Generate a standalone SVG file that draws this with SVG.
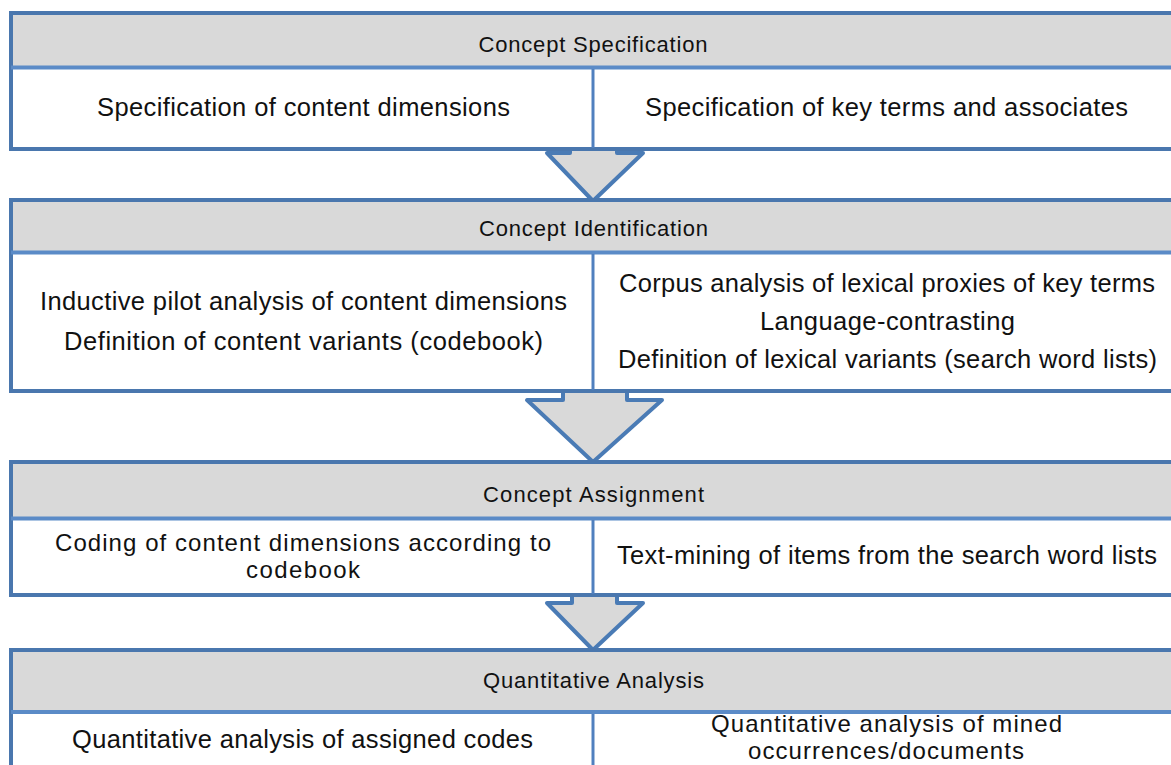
<svg xmlns="http://www.w3.org/2000/svg" width="1171" height="765" viewBox="0 0 1171 765">
<style>
.outer{fill:#ffffff;stroke:#4a77ae;stroke-width:4}
.head{fill:#d9d9d9;stroke:none}
.sep{stroke:#5b8bc7;stroke-width:4;fill:none}
.div{stroke:#5080bf;stroke-width:3;fill:none}
.arrow{fill:#d9d9d9;stroke:#4a7bb5;stroke-width:4;stroke-linejoin:round}
.h{font-family:"Liberation Sans",Arial,sans-serif;font-size:22px;fill:#111;text-anchor:middle}
.b{font-family:"Liberation Sans",Arial,sans-serif;font-size:25.5px;fill:#111;text-anchor:middle}
.s{font-family:"Liberation Sans",Arial,sans-serif;font-size:24px;fill:#111;text-anchor:middle}
</style>
<rect width="1171" height="765" fill="#ffffff"/>
<g id="connectors">
<polygon class="arrow" points="570,146 617,146 617,153 643,153 593,201 547,153 570,153"/>
<polygon class="arrow" points="563,388 627,388 627,400 662,400 593,462 527,400 563,400"/>
<polygon class="arrow" points="572,592 617,592 617,603 643,603 593,650 547,603 572,603"/>
</g>
<g id="concept-specification">
<rect class="outer" x="11" y="13" width="1172" height="136"/>
<rect class="head" x="13" y="15" width="1168" height="51"/>
<line class="sep" x1="11" y1="67.5" x2="1183" y2="67.5"/>
<line class="div" x1="593" y1="69" x2="593" y2="148"/>
<text class="h" x="593" y="52" textLength="229" lengthAdjust="spacing">Concept Specification</text>
<text class="b" x="303.5" y="116" textLength="413" lengthAdjust="spacing">Specification of content dimensions</text>
<text class="b" x="886.5" y="116" textLength="483" lengthAdjust="spacing">Specification of key terms and associates</text>
</g>
<g id="concept-identification">
<rect class="outer" x="11" y="200" width="1172" height="191"/>
<rect class="head" x="13" y="202" width="1168" height="49"/>
<line class="sep" x1="11" y1="252.5" x2="1183" y2="252.5"/>
<line class="div" x1="593" y1="254" x2="593" y2="390"/>
<text class="h" x="593.5" y="236" textLength="229" lengthAdjust="spacing">Concept Identification</text>
<text class="b" x="303.5" y="310" textLength="527" lengthAdjust="spacing">Inductive pilot analysis of content dimensions</text>
<text class="b" x="303.5" y="350" textLength="479" lengthAdjust="spacing">Definition of content  variants (codebook)</text>
<text class="b" x="887" y="292" textLength="536" lengthAdjust="spacing">Corpus analysis of lexical proxies of key terms</text>
<text class="b" x="887.5" y="330" textLength="255" lengthAdjust="spacing">Language-contrasting</text>
<text class="b" x="887.5" y="368" textLength="539" lengthAdjust="spacing">Definition of lexical variants (search word lists)</text>
</g>
<g id="concept-assignment">
<rect class="outer" x="11" y="462" width="1172" height="133"/>
<rect class="head" x="13" y="464" width="1168" height="54"/>
<line class="sep" x1="11" y1="518.5" x2="1183" y2="518.5"/>
<line class="div" x1="593" y1="520" x2="593" y2="594"/>
<text class="h" x="593.5" y="502" textLength="221" lengthAdjust="spacing">Concept Assignment</text>
<text class="s" x="303" y="551" textLength="496" lengthAdjust="spacing">Coding of content dimensions according to</text>
<text class="s" x="303" y="578" textLength="114" lengthAdjust="spacing">codebook</text>
<text class="b" x="887" y="564" textLength="540" lengthAdjust="spacing">Text-mining of items from the search word lists</text>
</g>
<g id="quantitative-analysis">
<rect class="outer" x="11" y="650" width="1172" height="140"/>
<rect class="head" x="13" y="652" width="1168" height="59"/>
<line class="sep" x1="11" y1="712" x2="1183" y2="712"/>
<line class="div" x1="593" y1="714" x2="593" y2="770"/>
<text class="h" x="593.5" y="688" textLength="221" lengthAdjust="spacing">Quantitative Analysis</text>
<text class="b" x="302.5" y="748" textLength="461" lengthAdjust="spacing">Quantitative analysis of assigned codes</text>
<text class="s" x="886.5" y="732" textLength="351" lengthAdjust="spacing">Quantitative analysis of mined</text>
<text class="s" x="886" y="759" textLength="276" lengthAdjust="spacing">occurrences/documents</text>
</g>
</svg>
